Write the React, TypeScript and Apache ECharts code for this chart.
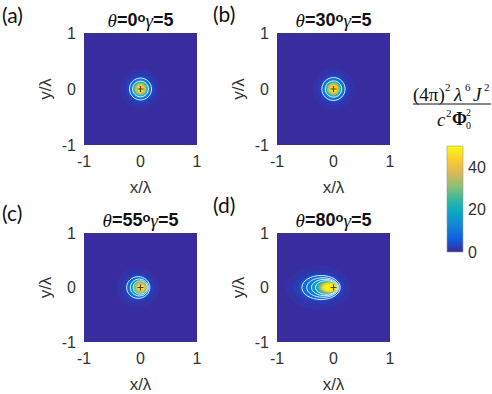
import React, { useEffect, useRef } from 'react';
import * as echarts from 'echarts';

// ---------- data ----------
const panelLetters = ['(a)', '(b)', '(c)', '(d)'];
const panelTheta = ['0', '30', '55', '80'];
const gammaValue = '5';
const axisMin = -1;
const axisMax = 1;
const colorMin = 0;
const colorMax = 50;
const colorbarTicks = [0, 20, 40];
const parulaStops = ['#3a2a9c', '#0d5ee4', '#1485d4', '#06a7c6', '#38b99e', '#92bf73', '#d9ba56', '#fcce2e', '#f9fb0e'];

// filled contour bands: [cx, cy, rx, ry, value]
const bandsA = [
  [0, 0, 1.6, 1.6, 0.3], [0, 0, 0.36, 0.36, 1.0], [0, 0, 0.28, 0.28, 2], [0, 0, 0.23, 0.23, 4],
  [0, 0, 0.2, 0.2, 8], [0, 0, 0.17, 0.17, 12], [0, 0, 0.145, 0.145, 18], [0, 0, 0.125, 0.125, 25],
  [0, 0, 0.105, 0.105, 32], [0, 0, 0.085, 0.085, 38], [0, 0, 0.065, 0.065, 43], [0, 0, 0.045, 0.045, 47.5],
  [0, 0, 0.025, 0.025, 50],
];
const bandsB = [
  [0, 0, 1.6, 1.6, 0.3], [0, 0, 0.37, 0.37, 1.0], [0, 0, 0.29, 0.29, 2], [0, 0, 0.235, 0.235, 4],
  [0, 0, 0.205, 0.205, 8], [0, 0, 0.175, 0.175, 12], [0, 0, 0.15, 0.15, 18], [0, 0, 0.13, 0.13, 25],
  [0, 0, 0.11, 0.11, 32], [0, 0, 0.09, 0.09, 38], [0, 0, 0.07, 0.07, 43], [0, 0, 0.05, 0.05, 47.5],
  [0, 0, 0.028, 0.028, 50],
];
const bandsC = [
  [0, 0, 1.6, 1.6, 0.3], [-0.05, 0, 0.38, 0.37, 1.0], [-0.045, 0, 0.29, 0.28, 2], [-0.04, 0, 0.235, 0.23, 4],
  [-0.04, 0, 0.205, 0.2, 8], [-0.025, 0, 0.175, 0.17, 12], [-0.015, 0, 0.15, 0.145, 18], [-0.005, 0, 0.128, 0.125, 25],
  [0, 0, 0.108, 0.105, 32], [0.005, 0, 0.088, 0.085, 38], [0.008, 0, 0.068, 0.066, 43], [0.01, 0, 0.048, 0.046, 47.5],
  [0.01, 0, 0.026, 0.026, 50],
];
const bandsD = [
  [0, 0, 1.6, 1.6, 0.3], [-0.27, 0, 0.58, 0.4, 1.1], [-0.25, 0, 0.45, 0.3, 2.2], [-0.23, 0, 0.38, 0.25, 4.5],
  [-0.22, 0, 0.34, 0.22, 8], [-0.19, 0, 0.29, 0.185, 11], [-0.155, 0, 0.24, 0.155, 15], [-0.125, 0, 0.2, 0.13, 21],
  [-0.1, 0, 0.17, 0.11, 28], [-0.085, 0, 0.15, 0.095, 36], [-0.072, 0, 0.135, 0.085, 43], [-0.065, 0, 0.115, 0.072, 47.5],
  [-0.055, 0, 0.08, 0.05, 50],
];

// contour lines: [cx, cy, rx, ry]
const contoursA = [[0, 0, 0.195, 0.195], [0, 0, 0.14, 0.14]];
const contoursB = [[0, 0, 0.205, 0.205], [0, 0, 0.145, 0.145]];
const contoursC = [[-0.04, 0, 0.205, 0.2], [-0.02, 0, 0.16, 0.155], [-0.005, 0, 0.125, 0.122]];
const contoursD = [[-0.22, 0, 0.34, 0.22], [-0.19, 0, 0.285, 0.18], [-0.155, 0, 0.235, 0.15], [-0.125, 0, 0.195, 0.125]];

const sourcePoint = [[0, 0]];

const allBands = [bandsA, bandsB, bandsC, bandsD];
const allContours = [contoursA, contoursB, contoursC, contoursD];

// ---------- layout ----------
const gridBoxes = [
  { left: 84, top: 33 },
  { left: 277, top: 33 },
  { left: 84, top: 233 },
  { left: 277, top: 233 },
];
const GW = 113;
const GH = 112;
const SANS = '"Liberation Sans", Arial, Helvetica, sans-serif';
const SERIF = '"Liberation Serif", "Times New Roman", serif';
const LBL = 'Lato, "Open Sans", sans-serif';
const TXT = '#333333';

const letterPos = [
  [2, 14],
  [213, 13],
  [2, 212],
  [213, 204],
];

export default function App() {
  const ref = useRef<HTMLDivElement>(null);

  useEffect(() => {
    if (!ref.current) return;
    const chart = echarts.init(ref.current, null, { renderer: 'svg' });

    const grids: any[] = gridBoxes.map((g) => ({ left: g.left, top: g.top, width: GW, height: GH, containLabel: false }));
    grids.push({ left: 447, top: 146, width: 16, height: 106 });

    const xAxes: any[] = [];
    const yAxes: any[] = [];
    for (let i = 0; i < 4; i++) {
      xAxes.push({
        gridIndex: i, type: 'value', min: axisMin, max: axisMax, interval: 1,
        axisLine: { show: false }, axisTick: { show: false }, splitLine: { show: false },
        axisLabel: { fontSize: 16, color: TXT, margin: 8, fontFamily: SANS },
        name: 'x/λ', nameLocation: 'middle', nameGap: 34,
        nameTextStyle: { fontSize: 17, color: TXT, fontFamily: SANS },
      });
      yAxes.push({
        gridIndex: i, type: 'value', min: axisMin, max: axisMax, interval: 1,
        axisLine: { show: false }, axisTick: { show: false }, splitLine: { show: false },
        axisLabel: { fontSize: 16, color: TXT, margin: 8, fontFamily: SANS },
        name: 'y/λ', nameLocation: 'middle', nameGap: 30, nameRotate: 90,
        nameTextStyle: { fontSize: 17, color: TXT, fontFamily: SANS },
      });
    }
    xAxes.push({ gridIndex: 4, type: 'value', min: 0, max: 1, show: false });
    yAxes.push({
      gridIndex: 4, type: 'value', position: 'right', min: colorMin, max: colorMax, interval: 20,
      axisLine: { show: false }, axisTick: { show: false }, splitLine: { show: false },
      axisLabel: {
        fontSize: 16, color: TXT, margin: 5, fontFamily: SANS, showMaxLabel: false,
        formatter: (v: number) => (colorbarTicks.indexOf(v) >= 0 ? String(v) : ''),
      },
    });

    const series: any[] = [];
    const bandSeriesIdx: number[] = [];
    for (let i = 0; i < 4; i++) {
      bandSeriesIdx.push(series.length);
      series.push({
        type: 'custom', xAxisIndex: i, yAxisIndex: i, clip: true,
        data: allBands[i],
        renderItem: (params: any, api: any) => {
          const c = api.coord([api.value(0), api.value(1)]);
          const s = api.size([api.value(2), api.value(3)]);
          return {
            type: 'ellipse',
            shape: { cx: c[0], cy: c[1], rx: s[0], ry: s[1] },
            style: { fill: api.visual('color') },
          };
        },
      });
      series.push({
        type: 'custom', xAxisIndex: i, yAxisIndex: i, clip: true,
        data: allContours[i],
        renderItem: (params: any, api: any) => {
          const c = api.coord([api.value(0), api.value(1)]);
          const s = api.size([api.value(2), api.value(3)]);
          return {
            type: 'ellipse',
            shape: { cx: c[0], cy: c[1], rx: s[0], ry: s[1] },
            style: { fill: 'none', stroke: 'rgba(235,245,255,0.9)', lineWidth: 1 },
          };
        },
      });
      series.push({
        type: 'scatter', xAxisIndex: i, yAxisIndex: i, data: sourcePoint,
        symbol: 'path://M4,0H6V4H10V6H6V10H4V6H0V4H4Z', symbolSize: 6,
        itemStyle: { color: '#1a1a1a' }, silent: true,
      });
    }
    // colorbar
    series.push({
      type: 'custom', xAxisIndex: 4, yAxisIndex: 4,
      data: [[0, colorMin, 1, colorMax]],
      renderItem: (params: any, api: any) => {
        const p0 = api.coord([api.value(0), api.value(3)]);
        const p1 = api.coord([api.value(2), api.value(1)]);
        return {
          type: 'rect',
          shape: { x: p0[0], y: p0[1], width: p1[0] - p0[0], height: p1[1] - p0[1] },
          style: {
            fill: {
              type: 'linear', x: 0, y: 1, x2: 0, y2: 0,
              colorStops: parulaStops.map((c, k) => ({ offset: k / (parulaStops.length - 1), color: c })),
            },
            stroke: '#9a9a9a', lineWidth: 0.6,
          },
        };
      },
    });

    const graphics: any[] = [];
    for (let i = 0; i < 4; i++) {
      graphics.push({
        type: 'text', x: letterPos[i][0], y: letterPos[i][1],
        style: { text: panelLetters[i], font: `21px ${LBL}`, fill: '#111', align: 'left', verticalAlign: 'middle' },
      });
      const g = gridBoxes[i];
      graphics.push({
        type: 'text', x: g.left + GW / 2, y: g.top - 13,
        style: {
          text: `{t|θ}{b|=${panelTheta[i]}}{d|o}{g|γ}{b|=${gammaValue}}`,
          align: 'center', verticalAlign: 'middle',
          rich: {
            t: { fontFamily: SERIF, fontStyle: 'italic', fontSize: 19, fill: '#111' },
            b: { fontFamily: SANS, fontWeight: 'bold', fontSize: 18, fill: '#111' },
            d: { fontFamily: SANS, fontWeight: 'bold', fontSize: 13, fill: '#111', verticalAlign: 'top' },
            g: { fontFamily: SERIF, fontStyle: 'italic', fontSize: 19, fill: '#111' },
          },
        },
      });
    }
    // colorbar label fraction
    const fr = (text: string, x: number, y: number, size: number, italic = false, bold = false) => ({
      type: 'text', x, y,
      style: {
        text, fill: '#111', align: 'left', verticalAlign: 'middle',
        font: `${italic ? 'italic ' : ''}${bold ? 'bold ' : ''}${size}px ${SERIF}`,
      },
    });
    graphics.push(fr('(4π)', 413, 94, 19));
    graphics.push(fr('2', 445, 87, 11));
    graphics.push(fr('λ', 454, 94, 19, true));
    graphics.push(fr('6', 465, 87, 11));
    graphics.push(fr('J', 473, 94, 19, true));
    graphics.push(fr('2', 484, 87, 11));
    graphics.push({ type: 'line', shape: { x1: 413, y1: 104, x2: 491, y2: 104 }, style: { stroke: '#111', lineWidth: 1 } });
    graphics.push(fr('c', 437, 119, 19, true));
    graphics.push(fr('2', 446, 113, 11));
    graphics.push(fr('Φ', 452, 119, 18, false, true));
    graphics.push(fr('2', 466, 112, 10));
    graphics.push(fr('0', 466, 125, 10));

    chart.setOption({
      animation: false,
      backgroundColor: '#ffffff',
      grid: grids,
      xAxis: xAxes,
      yAxis: yAxes,
      visualMap: {
        show: false, type: 'continuous', min: colorMin, max: colorMax, dimension: 4,
        seriesIndex: bandSeriesIdx, inRange: { color: parulaStops },
      },
      series,
      graphic: graphics,
    });

    return () => chart.dispose();
  }, []);

  return <div ref={ref} style={{ position: 'fixed', left: 0, top: 0, width: 492, height: 394 }} />;
}
